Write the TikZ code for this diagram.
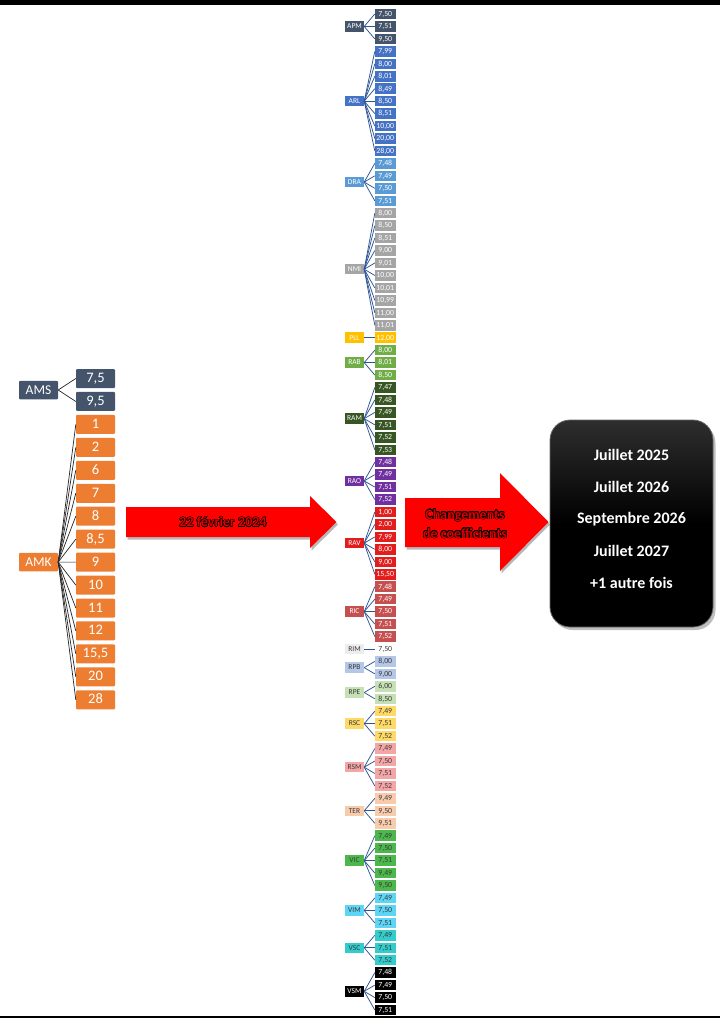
\documentclass[tikz,border=0pt]{standalone}
\usepackage{fontspec}
\setmainfont{Carlito}
\usepackage{contour}
\contourlength{0.45pt}
\contournumber{16}
\definecolor{cAPM}{HTML}{44546A}
\definecolor{cARL}{HTML}{4472C4}
\definecolor{cDRA}{HTML}{5B9BD5}
\definecolor{cNMI}{HTML}{A5A5A5}
\definecolor{cPLL}{HTML}{FFC000}
\definecolor{cRAB}{HTML}{70AD47}
\definecolor{cRAM}{HTML}{375623}
\definecolor{cRAO}{HTML}{7030A0}
\definecolor{cRAV}{HTML}{E31C1C}
\definecolor{cRIC}{HTML}{C65050}
\definecolor{cRIM}{HTML}{EDEDED}
\definecolor{cRPB}{HTML}{B4C7E7}
\definecolor{cRPE}{HTML}{C5E0B4}
\definecolor{cRSC}{HTML}{FFD966}
\definecolor{cRSM}{HTML}{F4A6A6}
\definecolor{cTER}{HTML}{F8CBAD}
\definecolor{cVIC}{HTML}{4CB84C}
\definecolor{cVIM}{HTML}{5DD5F5}
\definecolor{cVSC}{HTML}{33CCCC}
\definecolor{cVSM}{HTML}{000000}
\definecolor{cAMS}{HTML}{44546A}
\definecolor{cAMK}{HTML}{ED7D31}
\definecolor{dtext}{HTML}{3A3A3A}
\definecolor{cconn}{HTML}{2F5597}
\definecolor{arrred}{HTML}{FF0000}
\newcount\myrow
\newcommand\mygrp[5]{%
  \edef\gstart{\the\myrow}%
  \foreach \v in {#5}{%
    \edef\r{\the\myrow}%
    \node[valbox, fill=#3, text=#4] (v\r) at (385.25,{14+12.45*\r}) {\v};
    \global\advance\myrow by 1\relax
  }%
  \pgfmathtruncatemacro\gend{\the\myrow-1}%
  \node[lblbox, fill=#2, text=#4] (#1) at (354.5,{14+12.45*(\gstart+\gend)/2}) {#1};
  \foreach \k in {\gstart,...,\gend}{\draw[conn] (#1.east) -- (v\k.west);}%
}
\begin{document}
\begin{tikzpicture}[x=1pt,y=-1pt,
  valbox/.style={inner sep=0pt, minimum width=20.5pt, minimum height=10.5pt,
    text height=5.2pt, text depth=0.6pt, font=\fontsize{7.8}{8}\selectfont},
  lblbox/.style={inner sep=0pt, minimum width=19pt, minimum height=10.5pt,
    text height=5.2pt, text depth=0.6pt, font=\fontsize{7.5}{8}\selectfont},
  conn/.style={draw=cconn, line width=0.75pt},
  bigbox/.style={inner sep=0pt, minimum width=39pt, minimum height=19pt, rounded corners=1pt,
    text=white, text height=9.5pt, text depth=1.5pt, font=\fontsize{14.5}{16}\selectfont},
  biglbl/.style={inner sep=0pt, minimum width=39pt, minimum height=18.5pt, rounded corners=1pt,
    text=white, text height=9.5pt, text depth=0pt, font=\fontsize{13.5}{16}\selectfont},
  connk/.style={draw=black!85, line width=0.7pt},
  arrshape/.style={fill=arrred},
  shadowc/.style={fill=black, opacity=0.28},
  arrtxt/.style={text=arrred!88!black, font=\fontsize{14}{19}\selectfont\bfseries, align=center},
  rtxt/.style={text=white, font=\fontsize{16}{18}\selectfont\bfseries}
]
\useasboundingbox (0,0) rectangle (720,1018);
\fill[white] (0,0) rectangle (720,1018);
% top bar and bottom line
\fill[black] (0,0) rectangle (720,5);
\fill[black] (0,1016) rectangle (720,1018);

% ---------- middle column ----------
\myrow=0
\mygrp{APM}{cAPM}{cAPM}{white}{{7,50},{7,51},{9,50}}
\mygrp{ARL}{cARL}{cARL}{white}{{7,99},{8,00},{8,01},{8,49},{8,50},{8,51},{10,00},{20,00},{28,00}}
\mygrp{DRA}{cDRA}{cDRA}{white}{{7,48},{7,49},{7,50},{7,51}}
\mygrp{NMI}{cNMI}{cNMI}{white}{{8,00},{8,50},{8,51},{9,00},{9,01},{10,00},{10,01},{10,99},{11,00},{11,01}}
\mygrp{PLL}{cPLL}{cPLL}{white}{{12,00}}
\mygrp{RAB}{cRAB}{cRAB}{white}{{8,00},{8,01},{8,50}}
\mygrp{RAM}{cRAM}{cRAM}{white}{{7,47},{7,48},{7,49},{7,51},{7,52},{7,53}}
\mygrp{RAO}{cRAO}{cRAO}{white}{{7,48},{7,49},{7,51},{7,52}}
\mygrp{RAV}{cRAV}{cRAV}{white}{{1,00},{2,00},{7,99},{8,00},{9,00},{15,50}}
\mygrp{RIC}{cRIC}{cRIC}{white}{{7,48},{7,49},{7,50},{7,51},{7,52}}
\mygrp{RIM}{cRIM}{white}{dtext}{{7,50}}
\mygrp{RPB}{cRPB}{cRPB}{dtext}{{8,00},{9,00}}
\mygrp{RPE}{cRPE}{cRPE}{dtext}{{6,00},{8,50}}
\mygrp{RSC}{cRSC}{cRSC}{dtext}{{7,49},{7,51},{7,52}}
\mygrp{RSM}{cRSM}{cRSM}{dtext}{{7,49},{7,50},{7,51},{7,52}}
\mygrp{TER}{cTER}{cTER}{dtext}{{9,49},{9,50},{9,51}}
\mygrp{VIC}{cVIC}{cVIC}{dtext}{{7,49},{7,50},{7,51},{9,49},{9,50}}
\mygrp{VIM}{cVIM}{cVIM}{dtext}{{7,49},{7,50},{7,51}}
\mygrp{VSC}{cVSC}{cVSC}{dtext}{{7,49},{7,51},{7,52}}
\mygrp{VSM}{cVSM}{cVSM}{white}{{7,48},{7,49},{7,50},{7,51}}

% ---------- left column ----------
\node[bigbox, fill=cAMS] (s1) at (95.5,378.5) {7,5};
\node[bigbox, fill=cAMS] (s2) at (95.5,401.45) {9,5};
\node[biglbl, fill=cAMS] (AMS) at (38.5,390) {AMS};
\draw[connk] (AMS.east) -- (s1.west);
\draw[connk] (AMS.east) -- (s2.west);
\node[biglbl, fill=cAMK] (AMK) at (38.5,562.1) {AMK};
\foreach \v [count=\i] in {1,2,6,7,8,{8,5},9,10,11,12,{15,5},20,28}{%
  \node[bigbox, fill=cAMK] (k\i) at (95.5,{378.5+22.95*(\i+1)}) {\v};
  \draw[connk] (AMK.east) -- (k\i.west);
}

% ---------- arrows ----------
\fill[shadowc] (127.5,509.5) -- (311.5,509.5) -- (311.5,498.5) -- (338,524.5) -- (311.5,550.5) -- (311.5,539.5) -- (127.5,539.5) -- cycle;
\fill[arrshape] (126,507) -- (310,507) -- (310,496) -- (336.5,522) -- (310,548) -- (310,537) -- (126,537) -- cycle;
\node[arrtxt] (t1) at (223,522) {\contour{black}{22 février 2024}};

\fill[shadowc] (406.5,500.5) -- (501.5,500.5) -- (501.5,475.5) -- (550,524.5) -- (501.5,573.5) -- (501.5,549.5) -- (406.5,549.5) -- cycle;
\fill[arrshape] (405,498) -- (500,498) -- (500,473) -- (548.5,522) -- (500,571) -- (500,547) -- (405,547) -- cycle;
\node[arrtxt] (t2) at (465,524) {\contour{black}{Changements}\\\contour{black}{de coefficients}};

% ---------- right box ----------
\fill[black, opacity=0.25, rounded corners=20pt] (552.5,423) rectangle (715.5,630);
\draw[draw=black!60, line width=0.8pt, rounded corners=20pt, top color=black!82, bottom color=black, middle color=black] (550,420) rectangle (713,627);
\node[rtxt] (r1) at (631.5,455) {Juillet 2025};
\node[rtxt] (r2) at (631.5,487) {Juillet 2026};
\node[rtxt] (r3) at (631.5,519) {Septembre 2026};
\node[rtxt] (r4) at (631.5,551) {Juillet 2027};
\node[rtxt] (r5) at (631.5,583) {+1 autre fois};
\end{tikzpicture}
\end{document}
